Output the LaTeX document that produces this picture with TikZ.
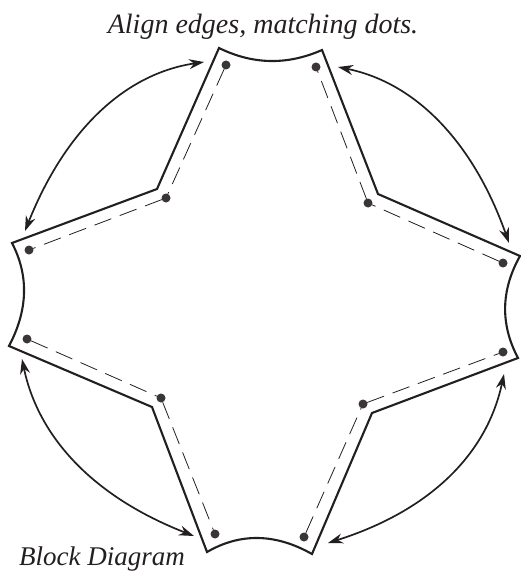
\documentclass[tikz,border=0pt]{standalone}
\usepackage{fontspec}
\setmainfont{Liberation Serif}
\usetikzlibrary{arrows.meta}
\definecolor{ink}{HTML}{231F20}
\definecolor{dotc}{HTML}{3A3638}
\tikzset{
  outline/.style={draw=ink,line width=2.1pt,line join=miter},
  sew/.style={draw=ink,line width=0.8pt,dash pattern=on 18pt off 9pt},
  fit arrow/.style={draw=ink,line width=1.7pt,{Stealth[length=15pt,width=10pt]}-{Stealth[length=15pt,width=10pt]}},
  pin/.style={circle,fill=dotc,minimum size=9pt,inner sep=0pt,outer sep=0pt},
  caption/.style={font=\itshape\fontsize{27pt}{30pt}\selectfont,text=ink,inner sep=0pt}
}
\begin{document}
\begin{tikzpicture}[x=1pt,y=-1pt]
\useasboundingbox (0,0) rectangle (521,578);
% outline corners
\coordinate (tl) at (219,48);
\coordinate (itl) at (157,189);
\coordinate (lt) at (12,243);
\coordinate (lb) at (9,346);
\coordinate (ibl) at (152,407);
\coordinate (bl) at (207,552);
\coordinate (br) at (312,554);
\coordinate (ibr) at (372,413);
\coordinate (rb) at (518,358);
\coordinate (rt) at (520,256);
\coordinate (itr) at (378,194);
\coordinate (tr) at (322,50);
\path[outline] (tl) -- (itl) -- (lt)
  .. controls (29,275.7) and (28,310) .. (lb)
  -- (ibl) -- (bl)
  .. controls (240.3,532.7) and (275.3,533.3) .. (br)
  -- (ibr) -- (rb)
  .. controls (500,324) and (501,290) .. (rt)
  -- (itr) -- (tr)
  .. controls (287.3,65.3) and (253,64.7) .. cycle;
% dots
\node[pin] (d1) at (226,65) {};
\node[pin] (d2) at (166,198) {};
\node[pin] (d3) at (29,250) {};
\node[pin] (d4) at (27,339) {};
\node[pin] (d5) at (161,398) {};
\node[pin] (d6) at (215,534) {};
\node[pin] (d7) at (304,537) {};
\node[pin] (d8) at (363,404) {};
\node[pin] (d9) at (503,352) {};
\node[pin] (d10) at (503,263) {};
\node[pin] (d11) at (368,203) {};
\node[pin] (d12) at (316,67) {};
% stitching
\foreach \a/\b in {d1/d2,d2/d3,d4/d5,d5/d6,d7/d8,d8/d9,d10/d11,d11/d12}
  \draw[sew] (\a) -- (\b);
% arrow ends
\coordinate (a1) at (204,62);
\coordinate (a2) at (25,231);
\coordinate (b1) at (338,67);
\coordinate (b2) at (509,243);
\coordinate (c1) at (22,359);
\coordinate (c2) at (194,536);
\coordinate (e1) at (504,374);
\coordinate (e2) at (328,543);
\draw[fit arrow] (a1) .. controls (125,73.7) and (65.3,130) .. (a2);
\draw[fit arrow] (b1) .. controls (417,83) and (474,144) .. (b2);
\draw[fit arrow] (c1) .. controls (38.7,439) and (95.3,497.5) .. (c2);
\draw[fit arrow] (e1) .. controls (486.7,455) and (429,511) .. (e2);
% captions
\node[caption,anchor=base,font=\itshape\fontsize{28pt}{30pt}\selectfont] (t1) at (263,34) {Align edges, matching dots.};
\node[caption,anchor=base] (t2) at (102,565) {Block Diagram};
\end{tikzpicture}
\end{document}
